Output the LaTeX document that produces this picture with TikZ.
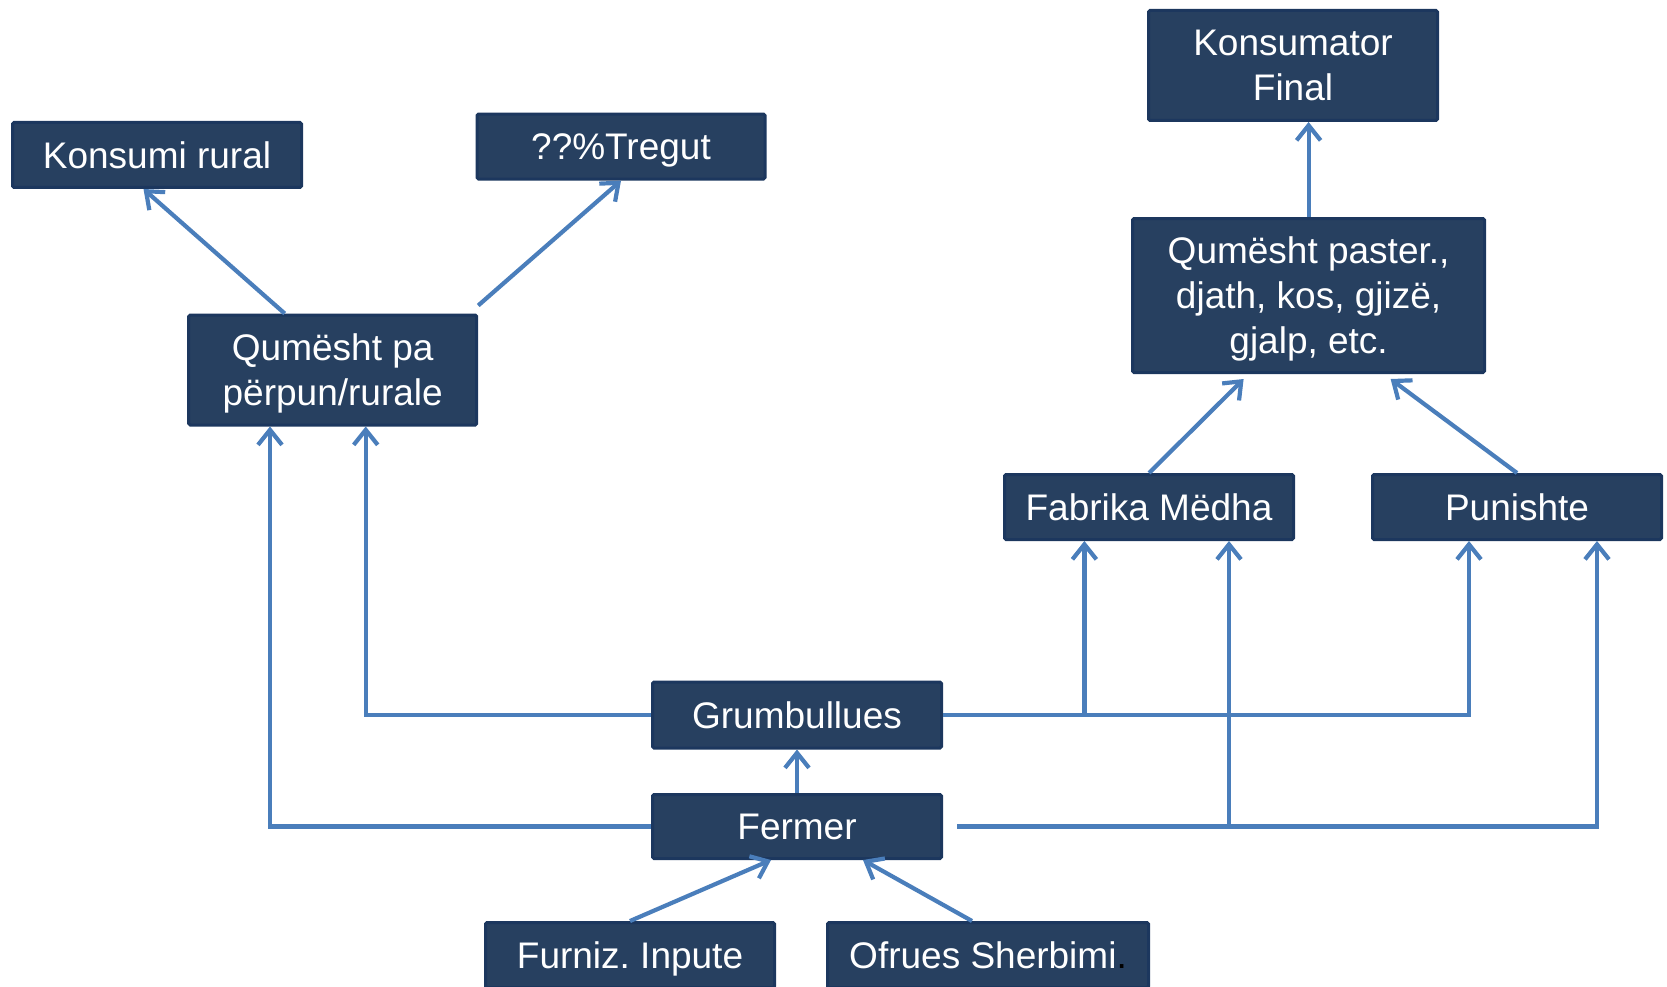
\documentclass[tikz,border=0pt]{standalone}
\usepackage{fontspec}
\setmainfont{Liberation Sans}
\usetikzlibrary{arrows.meta,calc}
\definecolor{boxfill}{HTML}{274060}
\definecolor{boxline}{HTML}{1C375E}
\definecolor{conncol}{HTML}{4A7EBB}
\begin{document}
\frenchspacing
\begin{tikzpicture}[x=1pt,y=-1pt,
  box/.style={draw=boxline, line width=3pt, fill=boxfill, text=white,
    font=\fontsize{37}{45}\selectfont, align=center, inner sep=0pt,
    text depth=0pt, rounded corners=1.5pt},
  conn/.style={draw=conncol, line width=4.2pt},
  arr/.style={conn, -{Straight Barb[length=15pt,width=24pt]}}]
\useasboundingbox (0,0) rectangle (1667,987);
\clip (0,0) rectangle (1667,987);
% boxes
\node[box, minimum width=289pt, minimum height=65pt] (kr) at (157,155) {Konsumi rural};
\node[box, minimum width=288pt, minimum height=65pt] (tr) at (621,146.6) {??\%Tregut};
\node[box, minimum width=288pt, minimum height=110pt] (qpa) at (332.7,370) {Qumësht pa\\përpun/rurale};
\node[box, minimum width=289pt, minimum height=110pt] (kf) at (1293,65.5) {Konsumator\\Final};
\node[box, minimum width=352pt, minimum height=154pt] (qps) at (1308.6,295.5) {Qumësht paster.,\\djath, kos, gjizë,\\gjalp, etc.};
\node[box, minimum width=289pt, minimum height=65pt] (fm) at (1149,507) {Fabrika Mëdha};
\node[box, minimum width=289pt, minimum height=65pt] (pu) at (1517,507) {Punishte};
\node[box, minimum width=289pt, minimum height=66pt] (gr) at (797,715) {Grumbullues};
\node[box, minimum width=289pt, minimum height=64pt] (fe) at (797,826.5) {Fermer};
\node[box, minimum width=289pt, minimum height=65pt] (fi) at (630,955) {Furniz. Inpute};
\node[box, minimum width=321pt, minimum height=65pt] (os) at (988,955) {Ofrues Sherbimi{\color{black}.}};
% helper coordinates
\coordinate (qpaA) at ([xshift=-62.7]qpa.south);
\coordinate (qpaB) at ([xshift=33]qpa.south);
\coordinate (fmA) at ([xshift=-64.6]fm.south);
\coordinate (fmB) at ([xshift=80]fm.south);
\coordinate (puA) at ([xshift=-48]pu.south);
\coordinate (puB) at ([xshift=80]pu.south);
% connectors
\draw[arr] ([xshift=-48]qpa.north) -- ([xshift=-13.5]kr.south);
\draw[arr] ([yshift=8]qpa.north east) -- (tr.south);
\draw[arr] (qps.north) -- (qps.north |- kf.south);
\draw[arr] (fm.north) -- ([xshift=-65,yshift=-5]qps.south);
\draw[arr] (pu.north) -- ([xshift=82,yshift=-5]qps.south);
\draw[arr] (gr.west) -| (qpaB);
\draw[arr] (gr.east) -| (puA);
\draw[arr] (fmA |- gr.east) -- (fmA);
\draw[arr] (fe.west) -| (qpaA);
\draw[arr] ([xshift=14]fe.east) -| (puB);
\draw[arr] (fmB |- fe.east) -- (fmB);
\draw[arr] (fe.north) -- (gr.south);
\draw[arr] (fi.north) -- ([xshift=-26]fe.south);
\draw[arr] ([xshift=-16]os.north) -- ([xshift=66]fe.south);
\end{tikzpicture}
\end{document}
